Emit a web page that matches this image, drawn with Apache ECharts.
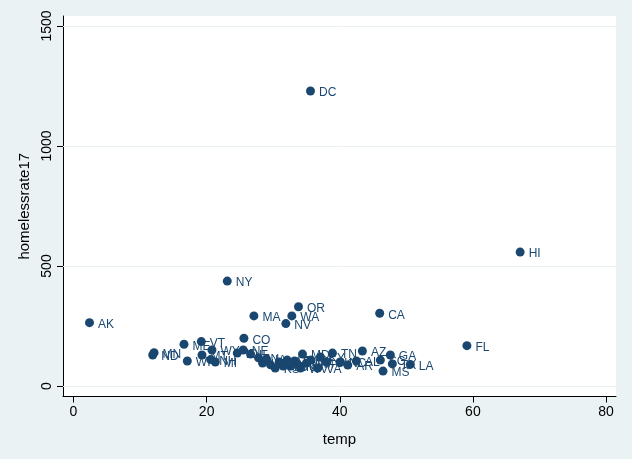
<!DOCTYPE html>
<html>
<head>
<meta charset="utf-8">
<script src="https://cdn.jsdelivr.net/npm/echarts@6/dist/echarts.min.js"></script>
<style>
html, body { margin: 0; padding: 0; background: #eaf2f3; }
#main { width: 632px; height: 459px; }
</style>
</head>
<body>
<div id="main"></div>
<script>
// state labels, mean temp, homeless rate 2017
var states = ['AK','MN','ND','ME','WI','VT','MT','WY','NH','MI',
    'ID','NE','CO','NY','MA','WA','NV','OR','CA','DC',
    'HI','FL','AZ','GA','LA','MS',
    'IL','IN','UT','IA','OH','KS','PA','SD','CT','MO','RI','NJ','WV','MD',
    'NM','DE','VA','KY','OK','TN','NC','AR','AL','SC','TX'];
var temp = [2.4, 12.1, 11.9, 16.6, 17.1, 19.2, 19.3, 20.8, 20.6, 21.3,
    24.6, 25.5, 25.6, 23.1, 27.1, 32.8, 31.9, 33.8, 46.0, 35.6,
    67.1, 59.1, 43.4, 47.6, 50.6, 46.5,
    26.6, 27.8, 28.4, 29.0, 29.6, 30.3, 30.9, 31.5, 32.1, 32.6, 33.2, 33.6, 34.1, 34.4,
    35.0, 35.7, 36.7, 37.1, 38.0, 38.9, 40.1, 41.2, 42.5, 46.1, 47.9];
var homelessrate17 = [264, 139, 129, 174, 104, 185, 129, 150, 110, 100,
    137, 150, 199, 437, 292, 292, 260, 330, 303, 1229,
    558, 168, 146, 129, 90, 62,
    133, 117, 96, 112, 88, 75, 100, 83, 108, 83, 104, 92, 75, 133,
    96, 108, 75, 121, 100, 137, 100, 87, 104, 108, 92];
var xTicks = [0, 20, 40, 60, 80];
var yTicks = [0, 500, 1000, 1500];

var navy = '#1a476f';
var font = 'Liberation Sans, Arial, Helvetica, sans-serif';

var points = states.map(function (s, i) {
    return { name: s, value: [temp[i], homelessrate17[i]] };
});

function plain(v) { return String(v); }

var myChart = echarts.init(document.getElementById('main'));
myChart.setOption({
    backgroundColor: '#eaf2f3',
    animation: false,
    grid: {
        left: 63, right: 16, top: 16, bottom: 62.5,
        show: true, backgroundColor: '#ffffff', borderWidth: 0
    },
    xAxis: {
        type: 'value', min: -1.58, max: 81.5,
        name: 'temp', nameLocation: 'middle', nameGap: 36,
        nameTextStyle: { color: '#000', fontSize: 15, fontFamily: font },
        axisLine: { show: true, onZero: false, lineStyle: { color: '#000', width: 1 } },
        axisTick: { show: true, length: 6, customValues: xTicks, lineStyle: { color: '#000' } },
        axisLabel: { customValues: xTicks, formatter: plain, color: '#000', fontSize: 14, fontFamily: font, margin: 9 },
        splitLine: { show: false }
    },
    yAxis: {
        type: 'value', min: -43.8, max: 1541.7,
        name: 'homelessrate17', nameLocation: 'middle', nameGap: 27,
        nameTextStyle: { color: '#000', fontSize: 15, fontFamily: font },
        axisLine: { show: true, onZero: false, lineStyle: { color: '#000', width: 1 } },
        axisTick: { show: true, length: 6, customValues: yTicks, lineStyle: { color: '#000' } },
        axisLabel: { customValues: yTicks, formatter: plain, rotate: 90, color: '#000', fontSize: 14, fontFamily: font, margin: 9 },
        splitLine: { show: false }
    },
    series: [{
        type: 'scatter',
        symbolSize: 9,
        itemStyle: { color: navy, opacity: 1 },
        label: {
            show: true, position: 'right', distance: 4, offset: [0, 2],
            formatter: '{b}', color: navy, fontSize: 12, fontFamily: font
        },
        markLine: {
            silent: true, symbol: 'none', label: { show: false },
            lineStyle: { color: '#eaf2f3', width: 1, type: 'solid' },
            data: yTicks.map(function (v) { return { yAxis: v }; })
        },
        data: points
    }]
});
</script>
</body>
</html>
